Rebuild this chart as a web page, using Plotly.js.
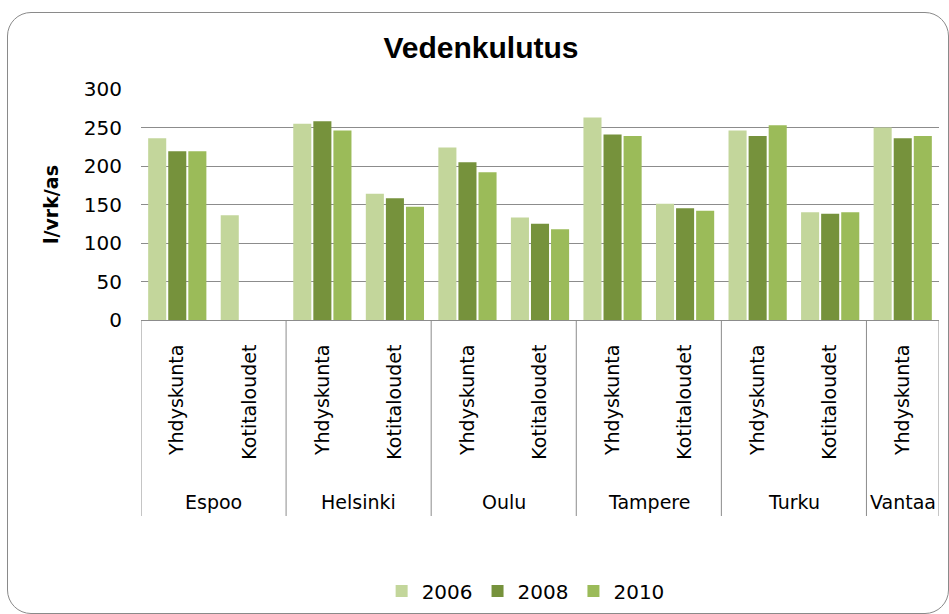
<!DOCTYPE html>
<html>
<head>
<meta charset="utf-8">
<script src="https://cdn.plot.ly/plotly-3.0.1.min.js"></script>
<style>
  html, body { margin: 0; padding: 0; background: #ffffff; }
  #wrap { position: relative; width: 949px; height: 614px; overflow: hidden; }
  #plot { position: absolute; left: 0; top: 0; width: 949px; height: 614px; }
  #frame { position: absolute; left: 7px; top: 12px; width: 940px; height: 600px;
           border: 1.5px solid #8a8a8a; border-radius: 24px; pointer-events: none; }
</style>
</head>
<body>
<div id="wrap">
  <div id="plot"></div>
  <div id="frame"></div>
</div>
<script>
// ---- data ----
const cities   = ['Espoo','Espoo','Helsinki','Helsinki','Oulu','Oulu','Tampere','Tampere','Turku','Turku','Vantaa'];
const segments = ['Yhdyskunta','Kotitaloudet','Yhdyskunta','Kotitaloudet','Yhdyskunta','Kotitaloudet','Yhdyskunta','Kotitaloudet','Yhdyskunta','Kotitaloudet','Yhdyskunta'];
const years    = ['2006','2008','2010'];
const v2006    = [236, 136, 255, 164, 224, 133, 263, 151, 246, 140, 250];
const v2008    = [219, null, 258, 158, 205, 125, 241, 145, 239, 138, 236];
const v2010    = [219, null, 246, 147, 192, 118, 239, 142, 253, 140, 239];
const chartTitle = 'Vedenkulutus';
const yTitle     = 'l/vrk/as';

// ---- styles ----
const colors = ['#c3d69b', '#76923c', '#9bbb59'];
const gridColor = '#8c8c8c';
const labelFont = 'DejaVu Sans, sans-serif';

const keys = cities.map((c, i) => c + ' | ' + segments[i]);
const series = [v2006, v2008, v2010];

const traces = series.map((vals, k) => ({
  type: 'bar',
  name: years[k],
  x: keys,
  y: vals,
  marker: { color: colors[k], line: { width: 0 } },
  hoverinfo: 'x+y+name'
}));

// group (city) labels and dividers, derived from the category arrays
const groups = [];
cities.forEach((c, i) => {
  const g = groups.length ? groups[groups.length - 1] : null;
  if (g && g.name === c) g.end = i; else groups.push({ name: c, start: i, end: i });
});

// plot area geometry (pixels) used for paper-coordinate placement
const plotTop = 89, plotBottom = 320, plotH = plotBottom - plotTop;
const py = p => (plotBottom - p) / plotH;

const annotations = groups.map(g => ({
  xref: 'x', yref: 'paper',
  x: (g.start + g.end) / 2, y: py(502),
  text: g.name, showarrow: false,
  xanchor: 'center', yanchor: 'middle',
  font: { family: labelFont, size: 19, color: '#000000' }
}));

const bounds = [groups[0].start - 0.5].concat(groups.map(g => g.end + 0.5));
const shapes = bounds.map(b => ({
  type: 'line', xref: 'x', yref: 'paper',
  x0: b, x1: b, y0: 0, y1: py(516),
  line: { color: gridColor, width: 1 }
}));

const layout = {
  width: 949, height: 614,
  margin: { l: 141, r: 10, t: plotTop, b: 614 - plotBottom, autoexpand: false },
  paper_bgcolor: 'rgba(0,0,0,0)',
  plot_bgcolor: 'rgba(0,0,0,0)',
  title: {
    text: chartTitle,
    font: { family: 'Liberation Sans, Arial, sans-serif', size: 30, color: '#000000', weight: 'bold' },
    x: 481 / 949, xref: 'container', xanchor: 'center',
    y: 1 - 47 / 614, yref: 'container', yanchor: 'middle'
  },
  barmode: 'group',
  bargap: 0.17,
  bargroupgap: 0.1,
  showlegend: true,
  legend: {
    orientation: 'h',
    x: 0.482, xanchor: 'center',
    y: py(591), yanchor: 'middle',
    font: { family: labelFont, size: 20, color: '#000000' },
    bgcolor: 'rgba(0,0,0,0)',
    traceorder: 'normal'
  },
  xaxis: {
    type: 'category',
    tickmode: 'array',
    tickvals: keys,
    ticktext: segments,
    tickangle: -90,
    ticks: '',
    ticklabelstandoff: 16,
    tickfont: { family: labelFont, size: 19, color: '#000000' },
    showgrid: false,
    showline: true,
    linecolor: gridColor,
    linewidth: 1,
    zeroline: false,
    range: [-0.5, keys.length - 0.5],
    fixedrange: true
  },
  yaxis: {
    range: [0, 300],
    tickmode: 'linear',
    tick0: 0, dtick: 50,
    ticks: '',
    ticklabelstandoff: 18,
    tickfont: { family: labelFont, size: 20, color: '#000000' },
    showgrid: true,
    gridcolor: gridColor,
    gridwidth: 1,
    showline: false,
    zeroline: false,
    title: {
      text: yTitle,
      font: { family: 'DejaVu Sans, sans-serif', size: 19, color: '#000000', weight: 'bold' },
      standoff: 20
    },
    fixedrange: true
  },
  annotations: annotations,
  shapes: shapes
};

Plotly.newPlot('plot', traces, layout, { displayModeBar: false });
</script>
</body>
</html>
